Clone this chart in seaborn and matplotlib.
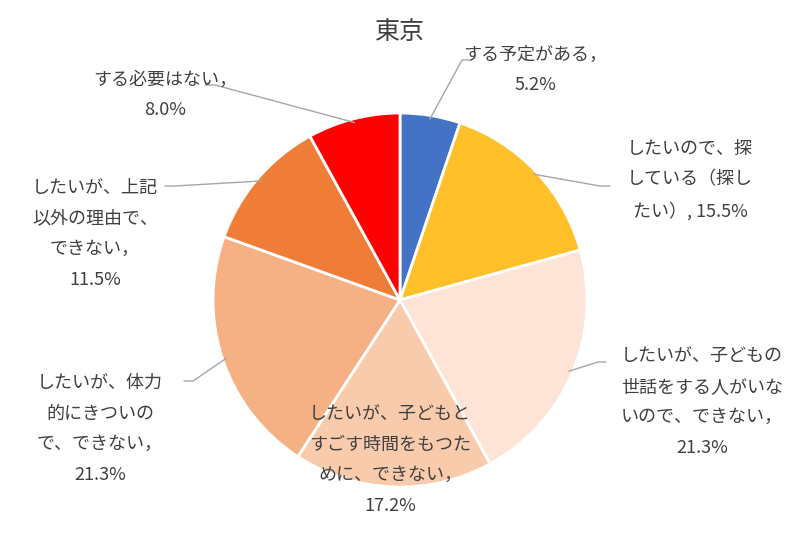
import numpy as np
import matplotlib
matplotlib.use("Agg")
import matplotlib.pyplot as plt
import seaborn as sns

# データ
labels = [
    "する予定がある，\n5.2%",
    "したいので、探\nしている（探し\nたい）, 15.5%",
    "したいが、子どもの\n世話をする人がいな\nいので、できない，\n21.3%",
    "したいが、子どもと\nすごす時間をもつた\nめに、できない，\n17.2%",
    "したいが、体力\n的にきついの\nで、できない，\n21.3%",
    "したいが、上記\n以外の理由で、\nできない，\n11.5%",
    "する必要はない，\n8.0%",
]
values = [5.2, 15.5, 21.3, 17.2, 21.3, 11.5, 8.0]
colors = ["#4472C4", "#FFC02A", "#FDE4D6", "#F9CBAD", "#F5B183", "#EF7D38", "#FF0000"]
title = "東京"

sns.set_theme(style="white")
plt.rcParams['font.family'] = ['Noto Sans CJK JP', 'DejaVu Sans']

fig = plt.figure(figsize=(8, 5.35), dpi=100)
ax = fig.add_axes([0, 0, 1, 1])

cx, cy, r = 400, 535 - 300, 187
wedges, _ = ax.pie(values, colors=colors, startangle=90, counterclock=False,
                   center=(cx, cy), radius=r, frame=True,
                   wedgeprops=dict(edgecolor="white", linewidth=2))
ax.set_xlim(0, 800)
ax.set_ylim(0, 535)
ax.axis("off")

# ラベル位置（ピクセル座標：上から）
text_pos = [(535, 70), (690, 180), (702, 402), (390, 460), (100, 429), (95, 234), (165, 95)]
# 引き出し線の折れ点と終点（なし = None）
line_end = [[(462, 60), (469, 60)], [(600, 186), (610, 186)], [(598, 362), (606, 362)],
            None, [(193, 381), (184, 381)], [(175, 186), (165, 186)], [(215, 85), (205, 85)]]

for w, lab, (tx, ty), le in zip(wedges, labels, text_pos, line_end):
    ax.text(tx, 535 - ty, lab, ha="center", va="center", multialignment="center",
            fontsize=13, color="#404040", linespacing=1.9)
    if le is not None:
        mid = np.deg2rad((w.theta1 + w.theta2) / 2)
        sx, sy = cx + r * 0.98 * np.cos(mid), cy + r * 0.98 * np.sin(mid)
        xs = [sx] + [p[0] for p in le]
        ys = [sy] + [535 - p[1] for p in le]
        ax.plot(xs, ys, color="#A6A6A6", linewidth=1)

ax.text(400, 535 - 32, title, ha="center", va="center", fontsize=18, color="#404040")

fig.savefig("out.png", dpi=100)
